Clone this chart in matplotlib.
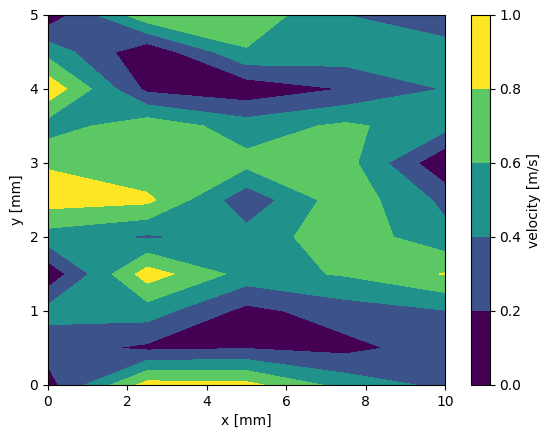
import numpy as np
import matplotlib
matplotlib.use("Agg")
import matplotlib.pyplot as plt

# grid (mm)
x = [0, 2.5, 5, 7.5, 10]
y = [0, 0.5, 1.0, 1.5, 2.0, 2.5, 3.0, 3.5, 4.0, 4.5, 5.0]

# velocity values, one row per y
v_y00 = [0.12, 0.88, 0.86, 0.52, 0.35]
v_y05 = [0.28, 0.16, 0.19, 0.14, 0.30]
v_y10 = [0.47, 0.50, 0.14, 0.30, 0.39]
v_y15 = [0.05, 0.90, 0.52, 0.62, 0.81]
v_y20 = [0.51, 0.37, 0.48, 0.73, 0.46]
v_y25 = [0.89, 0.85, 0.26, 0.73, 0.35]
v_y30 = [0.78, 0.605, 0.66, 0.68, 0.02]
v_y35 = [0.50, 0.73, 0.50, 0.64, 0.47]
v_y40 = [0.95, 0.15, 0.06, 0.21, 0.41]
v_y45 = [0.53, 0.04, 0.58, 0.52, 0.50]
v_y50 = [0.06, 0.75, 0.74, 0.40, 0.25]

levels = [0.0, 0.2, 0.4, 0.6, 0.8, 1.0]

Z = np.array([v_y00, v_y05, v_y10, v_y15, v_y20, v_y25,
              v_y30, v_y35, v_y40, v_y45, v_y50])
X, Y = np.meshgrid(x, y)

W, H = 549, 438
fig = plt.figure(figsize=(W / 100, H / 100), dpi=100)
ax = fig.add_axes([48 / W, (H - 385) / H, 397 / W, 370 / H])
cax = fig.add_axes([471 / W, (H - 385) / H, 18.5 / W, 370 / H])

# band colours span the whole viridis range (first band purple, last yellow)
cs = ax.contourf(X, Y, Z, levels=levels, cmap="viridis", vmin=0.1, vmax=0.9)
ax.set_xlabel("x [mm]")
ax.set_ylabel("y [mm]")
cb = fig.colorbar(cs, cax=cax)
cb.set_label("velocity [m/s]")

fig.savefig("out.png", dpi=100)
